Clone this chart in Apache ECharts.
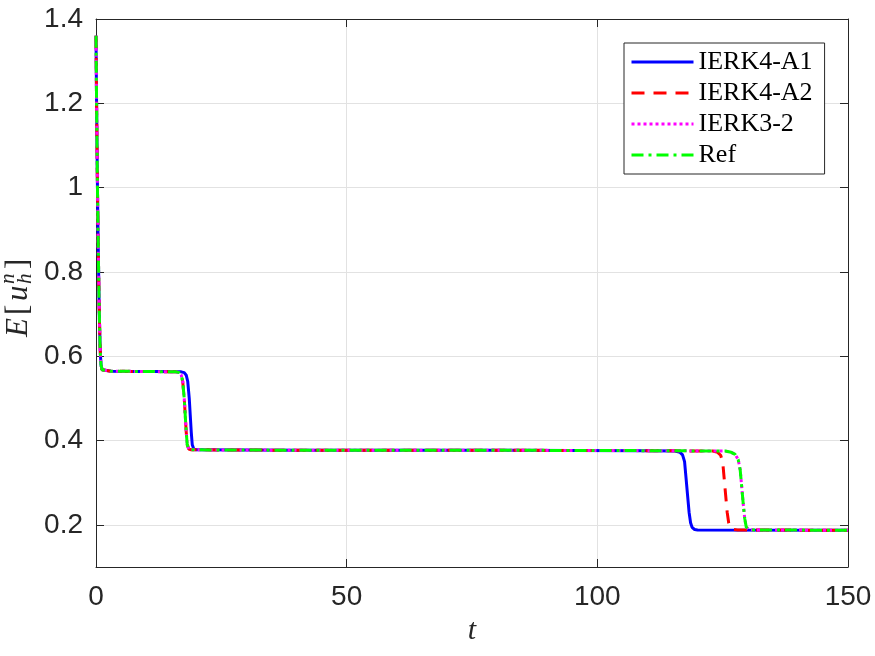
<!DOCTYPE html>
<html>
<head>
<meta charset="utf-8">
<script src="https://cdn.jsdelivr.net/npm/echarts@6/dist/echarts.min.js"></script>
<style>
  html, body { margin: 0; padding: 0; background: #fff; }
  #chart { width: 875px; height: 656px; }
</style>
</head>
<body>
<div id="chart"></div>
<script>
// common fast decay at the start (all schemes overlap here)
var tHead = [0, 0.1, 0.2, 0.3, 0.4, 0.5, 0.6, 0.7, 0.8, 0.9, 1.0, 1.2, 1.5, 3, 8, 12];
var eHead = [1.36, 1.22, 1.1, 0.99, 0.9, 0.82, 0.74, 0.68, 0.63, 0.6, 0.58, 0.568, 0.565, 0.5645, 0.564, 0.5635];

// IERK4-A1
var tA1 = [17.0, 17.6, 18.0, 18.3, 18.6, 18.8, 19.0, 19.2, 19.5, 20, 40, 80, 110, 115.5, 116.5, 117.0, 117.4, 117.7, 118.0, 118.3, 118.6, 118.9, 119.4, 120, 150];
var eA1 = [0.563, 0.561, 0.555, 0.54, 0.5, 0.46, 0.42, 0.39, 0.38, 0.378, 0.377, 0.377, 0.376, 0.375, 0.372, 0.366, 0.35, 0.31, 0.27, 0.23, 0.205, 0.194, 0.189, 0.188, 0.187];

// IERK4-A2
var tA2 = [16.0, 16.6, 17.0, 17.3, 17.6, 17.8, 18.0, 18.2, 18.5, 19, 40, 80, 110, 123.0, 124.0, 124.6, 125.0, 125.3, 125.6, 125.9, 126.2, 126.5, 127.0, 128, 150];
var eA2 = [0.563, 0.561, 0.555, 0.54, 0.5, 0.46, 0.42, 0.39, 0.38, 0.378, 0.377, 0.377, 0.376, 0.375, 0.372, 0.365, 0.35, 0.31, 0.27, 0.23, 0.205, 0.194, 0.189, 0.188, 0.187];

// IERK3-2
var tK3 = [16.0, 16.6, 17.0, 17.3, 17.6, 17.8, 18.0, 18.2, 18.5, 19, 40, 80, 110, 125.5, 126.7, 127.5, 128.1, 128.5, 128.8, 129.1, 129.4, 129.7, 130.2, 131, 150];
var eK3 = [0.563, 0.561, 0.555, 0.54, 0.5, 0.46, 0.42, 0.39, 0.38, 0.378, 0.377, 0.377, 0.376, 0.375, 0.372, 0.367, 0.355, 0.33, 0.29, 0.25, 0.215, 0.195, 0.189, 0.188, 0.187];

// Ref
var tRef = [16.0, 16.6, 17.0, 17.3, 17.6, 17.8, 18.0, 18.2, 18.5, 19, 40, 80, 110, 125.5, 126.7, 127.5, 128.1, 128.5, 128.8, 129.1, 129.4, 129.7, 130.2, 131, 150];
var eRef = [0.563, 0.561, 0.555, 0.54, 0.5, 0.46, 0.42, 0.39, 0.38, 0.378, 0.377, 0.377, 0.376, 0.375, 0.372, 0.367, 0.355, 0.33, 0.29, 0.25, 0.215, 0.195, 0.189, 0.188, 0.187];

var names = ['IERK4-A1', 'IERK4-A2', 'IERK3-2', 'Ref'];
var xTicks = [0, 50, 100, 150];
var yTicks = [0.2, 0.4, 0.6, 0.8, 1, 1.2, 1.4];

function pairs(t, e) {
  var out = [];
  for (var i = 0; i < t.length; i++) out.push([t[i], e[i]]);
  return out;
}

var chart = echarts.init(document.getElementById('chart'));
var axisColor = '#262626';
var tickFont = { fontFamily: 'Liberation Sans', fontSize: 28, color: axisColor };

function xAx(pos, labels) {
  return {
    type: 'value', position: pos, min: 0, max: 150, interval: 50,
    axisLine: { show: true, onZero: false, lineStyle: { color: axisColor, width: 1 } },
    axisTick: { show: true, inside: true, length: 8, customValues: xTicks, lineStyle: { color: axisColor } },
    axisLabel: Object.assign({ show: labels, margin: 16, customValues: xTicks }, tickFont),
    splitLine: { show: labels, lineStyle: { color: '#e2e2e2', width: 1 } }
  };
}
function yAx(pos, labels) {
  return {
    type: 'value', position: pos, min: 0.1, max: 1.4, interval: 0.1,
    axisLine: { show: true, onZero: false, lineStyle: { color: axisColor, width: 1 } },
    axisTick: { show: true, inside: true, length: 8, customValues: yTicks, lineStyle: { color: axisColor } },
    axisLabel: Object.assign({ show: labels, margin: 13, customValues: yTicks }, tickFont),
    splitLine: { show: labels, lineStyle: { color: '#e2e2e2', width: 1 } }
  };
}

var xa = xAx('bottom', true);
xa.name = 't';
xa.nameLocation = 'middle';
xa.nameGap = 48;
xa.nameTextStyle = { fontFamily: 'Liberation Serif', fontStyle: 'italic', fontSize: 30, color: axisColor };

var serif = 'Liberation Serif';
function gtext(txt, x, y, size, italic) {
  return {
    type: 'text', x: x, y: y,
    style: { text: txt, font: (italic ? 'italic ' : '') + size + 'px "' + serif + '"', fill: axisColor, verticalAlign: 'bottom', align: 'left' }
  };
}

var lw = 3;
var option = {
  animation: false,
  backgroundColor: '#fff',
  grid: { left: 96, right: 27, top: 19, bottom: 89, containLabel: false },
  xAxis: [xa, xAx('top', false)],
  yAxis: [yAx('left', true), yAx('right', false)],
  legend: {
    left: 624, top: 43,
    orient: 'vertical',
    data: names,
    backgroundColor: '#fff',
    borderColor: axisColor,
    borderWidth: 1,
    padding: [6, 12, 6, 6],
    itemWidth: 62,
    itemHeight: 14,
    itemGap: 5,
    itemStyle: { opacity: 0 },
    lineStyle: { width: lw },
    textStyle: { fontFamily: serif, fontSize: 26, color: '#000', lineHeight: 26 }
  },
  graphic: [{
    type: 'group', x: 27, y: 337, rotation: Math.PI / 2,
    children: [
      gtext('E', 0, 7, 31, true),
      gtext('[', 22, 7, 31, false),
      gtext('u', 36, 7, 31, true),
      gtext('n', 53, -8, 21, true),
      gtext('h', 53, 9, 21, true),
      gtext(']', 68, 7, 31, false)
    ]
  }],
  series: [
    { name: names[0], type: 'line', symbol: 'none', data: pairs(tHead, eHead).concat(pairs(tA1, eA1)),
      lineStyle: { color: '#0000ff', width: lw, type: 'solid' }, itemStyle: { color: '#0000ff' } },
    { name: names[1], type: 'line', symbol: 'none', data: pairs(tHead, eHead).concat(pairs(tA2, eA2)),
      lineStyle: { color: '#ff0000', width: lw, type: [13, 9] }, itemStyle: { color: '#ff0000' } },
    { name: names[2], type: 'line', symbol: 'none', data: pairs(tHead, eHead).concat(pairs(tK3, eK3)),
      lineStyle: { color: '#ff00ff', width: lw, type: [3, 3] }, itemStyle: { color: '#ff00ff' } },
    { name: names[3], type: 'line', symbol: 'none', data: pairs(tHead, eHead).concat(pairs(tRef, eRef)),
      lineStyle: { color: '#00ff00', width: lw, type: [12, 5, 3, 5] }, itemStyle: { color: '#00ff00' } }
  ]
};
chart.setOption(option);
</script>
</body>
</html>
